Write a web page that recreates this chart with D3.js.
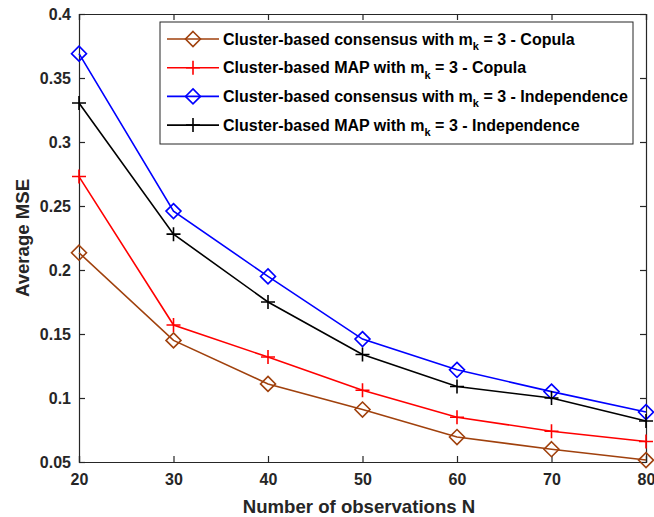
<!DOCTYPE html>
<html>
<head>
<meta charset="utf-8">
<script src="https://cdn.jsdelivr.net/npm/d3@7"></script>
<style>
  html, body { margin: 0; padding: 0; background: #fff; }
  svg { display: block; font-family: "Liberation Sans", Arial, sans-serif; }
</style>
</head>
<body>
<svg id="chart" width="654" height="517"></svg>
<script>
// Number of observations on the x axis
const observations = [20, 30, 40, 50, 60, 70, 80];

// Average MSE per method
const consensusCopula = [0.2135, 0.145, 0.111, 0.091, 0.0695, 0.060, 0.0515];
const mapCopula = [0.273, 0.157, 0.132, 0.106, 0.085, 0.074, 0.066];
const consensusIndep = [0.369, 0.246, 0.195, 0.146, 0.122, 0.105, 0.089];
const mapIndep = [0.3305, 0.228, 0.175, 0.134, 0.109, 0.100, 0.082];

const xTicks = [20, 30, 40, 50, 60, 70, 80];
const yTicks = [0.05, 0.1, 0.15, 0.2, 0.25, 0.3, 0.35, 0.4];

const series = [
  { name: "Cluster-based consensus with ", tail: " = 3 - Copula", values: consensusCopula, color: "#a0410d", marker: "diamond" },
  { name: "Cluster-based MAP with ", tail: " = 3 - Copula", values: mapCopula, color: "#ff0000", marker: "plus" },
  { name: "Cluster-based consensus with ", tail: " = 3 - Independence", values: consensusIndep, color: "#0000ff", marker: "diamond" },
  { name: "Cluster-based MAP with ", tail: " = 3 - Independence", values: mapIndep, color: "#000000", marker: "plus" }
];

const svg = d3.select("#chart");
const plotLeft = 79, plotRight = 646, plotTop = 14, plotBottom = 462;

const x = d3.scaleLinear().domain([20, 80]).range([plotLeft, plotRight]);
const y = d3.scaleLinear().domain([0.05, 0.4]).range([plotBottom, plotTop]);

const axisColor = "#262626";

// Axes with inward ticks, mirrored on top and right
const gx = svg.append("g").attr("transform", `translate(0,${plotBottom})`)
  .call(d3.axisBottom(x).tickValues(xTicks).tickSize(-6).tickPadding(12).tickFormat(d3.format("d")));
const gxt = svg.append("g").attr("transform", `translate(0,${plotTop})`)
  .call(d3.axisTop(x).tickValues(xTicks).tickSize(-6).tickFormat(""));
const gy = svg.append("g").attr("transform", `translate(${plotLeft},0)`)
  .call(d3.axisLeft(y).tickValues(yTicks).tickSize(-6).tickPadding(8).tickFormat(d => String(+d.toFixed(2))));
const gyr = svg.append("g").attr("transform", `translate(${plotRight},0)`)
  .call(d3.axisRight(y).tickValues(yTicks).tickSize(-6).tickFormat(""));

[gx, gxt, gy, gyr].forEach(g => {
  g.select(".domain").attr("stroke", axisColor).attr("stroke-width", 1.2);
  g.selectAll(".tick line").attr("stroke", axisColor).attr("stroke-width", 1.2);
  g.selectAll(".tick text").attr("fill", axisColor).attr("font-size", 16).attr("font-weight", "bold")
    .attr("font-family", "'Liberation Sans', Arial, sans-serif");
});

// Axis titles
svg.append("text").attr("x", 359).attr("y", 513).attr("text-anchor", "middle")
  .attr("font-size", 18.6).attr("font-weight", "bold").attr("fill", axisColor)
  .text("Number of observations N");
svg.append("text").attr("transform", `translate(29,${(plotTop + plotBottom) / 2}) rotate(-90)`)
  .attr("text-anchor", "middle").attr("font-size", 18.6).attr("font-weight", "bold").attr("fill", axisColor)
  .text("Average MSE");

const line = d3.line().x((d, i) => x(observations[i])).y(d => y(d));

function drawMarker(g, type, cx, cy, color) {
  if (type === "diamond") {
    const r = 7.5;
    g.append("path").attr("d", `M${cx},${cy - r}L${cx + r},${cy}L${cx},${cy + r}L${cx - r},${cy}Z`)
      .attr("fill", "none").attr("stroke", color).attr("stroke-width", 1.6);
  } else {
    const r = 7;
    g.append("path").attr("d", `M${cx - r},${cy}H${cx + r}M${cx},${cy - r}V${cy + r}`)
      .attr("fill", "none").attr("stroke", color).attr("stroke-width", 1.6);
  }
}

const plot = svg.append("g");
series.forEach(s => {
  plot.append("path").datum(s.values).attr("d", line)
    .attr("fill", "none").attr("stroke", s.color).attr("stroke-width", 1.6);
  s.values.forEach((v, i) => drawMarker(plot, s.marker, x(observations[i]), y(v), s.color));
});

// Legend
const lg = svg.append("g");
lg.append("rect").attr("x", 160).attr("y", 22).attr("width", 473).attr("height", 122)
  .attr("fill", "#fff").attr("stroke", axisColor).attr("stroke-width", 1);
series.forEach((s, i) => {
  const ly = 39 + i * 28.7;
  lg.append("line").attr("x1", 167).attr("x2", 219).attr("y1", ly).attr("y2", ly)
    .attr("stroke", s.color).attr("stroke-width", 1.6);
  drawMarker(lg, s.marker, 193, ly, s.color);
  const t = lg.append("text").attr("x", 223).attr("y", ly + 5.5).attr("font-size", 16)
    .attr("font-weight", "bold").attr("fill", "#000");
  t.append("tspan").text(s.name + "m");
  t.append("tspan").attr("dy", 5.5).attr("font-size", 11).text("k");
  t.append("tspan").attr("dy", -5.5).text(s.tail);
});
</script>
</body>
</html>
